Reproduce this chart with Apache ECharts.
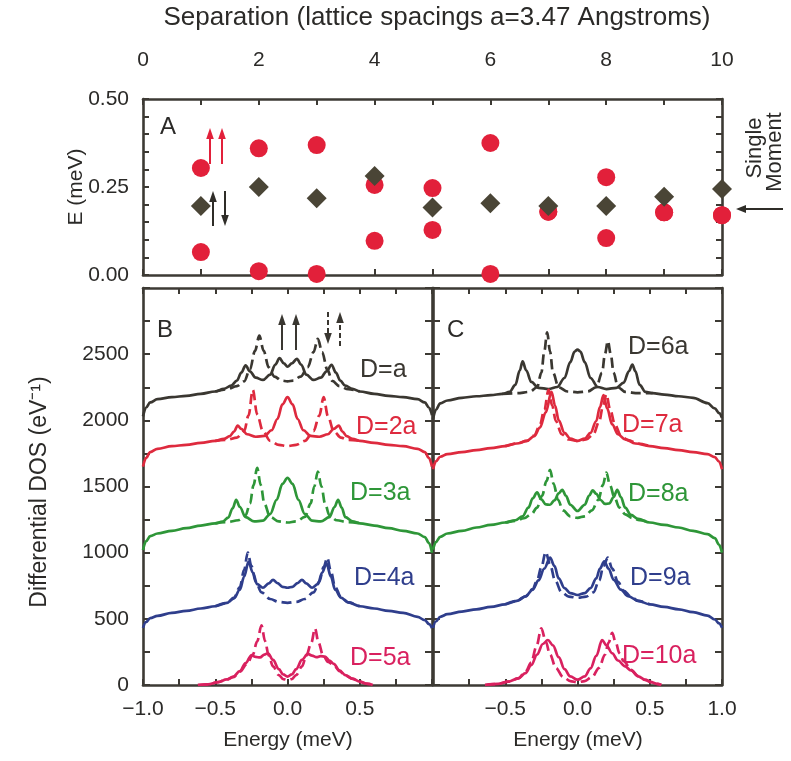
<!DOCTYPE html>
<html><head><meta charset="utf-8">
<script src="https://cdn.jsdelivr.net/npm/echarts/dist/echarts.min.js"></script>
<style>html,body{margin:0;padding:0;background:#fff}#c{width:791px;height:761px}</style>
</head><body><div id="c"></div>
<script>
// ---------- Panel A data ----------
const separations = [1,2,3,4,5,6,7,8,9,10];
const parallelUpper = [0.304,0.360,0.369,0.256,0.247,0.375,0.180,0.278,0.178,0.170];
const parallelLower = [0.065,0.011,0.003,0.097,0.128,0.003,0.180,0.105,0.178,0.170];
const antiparallel  = [0.196,0.250,0.218,0.281,0.192,0.204,0.196,0.196,0.222,0.244];

// ---------- Panel B data (energy meV, DOS eV^-1) ----------
const dosD1Solid = [[-1.00,2030],[-0.98,2095],[-0.95,2135],[-0.90,2160],[-0.80,2175],[-0.70,2185],[-0.60,2200],[-0.50,2218],[-0.44,2238],[-0.39,2262],[-0.35,2300],[-0.32,2360],[-0.29,2415],[-0.26,2370],[-0.22,2322],[-0.17,2305],[-0.12,2345],[-0.085,2420],[-0.055,2470],[-0.025,2430],[0.00,2405],[0.03,2430],[0.065,2465],[0.095,2420],[0.13,2345],[0.18,2305],[0.23,2322],[0.27,2370],[0.305,2420],[0.335,2360],[0.365,2300],[0.40,2262],[0.45,2238],[0.50,2218],[0.60,2200],[0.70,2185],[0.80,2175],[0.90,2160],[0.95,2135],[0.98,2095],[1.00,2040]];
const dosD1Dashed = [[-0.50,2218],[-0.42,2235],[-0.35,2258],[-0.30,2295],[-0.26,2385],[-0.225,2525],[-0.195,2640],[-0.165,2525],[-0.13,2400],[-0.09,2330],[-0.04,2300],[0.00,2295],[0.04,2300],[0.09,2330],[0.14,2400],[0.18,2515],[0.21,2615],[0.24,2515],[0.275,2385],[0.31,2298],[0.36,2258],[0.42,2235],[0.50,2218]];
const dosD2Solid = [[-1.00,1650],[-0.98,1715],[-0.95,1760],[-0.90,1785],[-0.80,1805],[-0.70,1815],[-0.60,1830],[-0.50,1845],[-0.44,1860],[-0.40,1880],[-0.37,1915],[-0.345,1960],[-0.32,1935],[-0.28,1895],[-0.22,1876],[-0.16,1882],[-0.11,1925],[-0.07,2010],[-0.035,2120],[0.00,2175],[0.035,2120],[0.07,2010],[0.11,1925],[0.16,1882],[0.22,1876],[0.28,1895],[0.32,1935],[0.355,1960],[0.38,1915],[0.41,1880],[0.45,1860],[0.50,1845],[0.60,1830],[0.70,1815],[0.80,1805],[0.90,1785],[0.95,1760],[0.98,1715],[1.00,1650]];
const dosD2Dashed = [[-0.50,1845],[-0.42,1852],[-0.35,1870],[-0.30,1918],[-0.27,2035],[-0.24,2230],[-0.21,2045],[-0.17,1918],[-0.12,1845],[-0.06,1815],[0.00,1805],[0.06,1815],[0.12,1845],[0.18,1918],[0.22,2035],[0.25,2175],[0.28,2030],[0.32,1918],[0.37,1870],[0.42,1852],[0.50,1845]];
const dosD3Solid = [[-1.00,1020],[-0.98,1085],[-0.95,1125],[-0.90,1145],[-0.80,1165],[-0.70,1185],[-0.60,1205],[-0.50,1222],[-0.45,1235],[-0.41,1265],[-0.38,1335],[-0.355,1400],[-0.33,1345],[-0.29,1268],[-0.23,1236],[-0.17,1242],[-0.12,1292],[-0.075,1400],[-0.035,1520],[0.00,1565],[0.035,1520],[0.075,1400],[0.12,1292],[0.17,1242],[0.23,1236],[0.29,1268],[0.325,1345],[0.35,1400],[0.375,1340],[0.40,1268],[0.45,1236],[0.50,1222],[0.60,1205],[0.70,1185],[0.80,1165],[0.90,1145],[0.95,1118],[0.98,1072],[1.00,1000]];
const dosD3Dashed = [[-0.50,1222],[-0.42,1230],[-0.34,1245],[-0.29,1282],[-0.26,1370],[-0.235,1510],[-0.21,1640],[-0.185,1510],[-0.16,1370],[-0.12,1270],[-0.06,1236],[0.00,1228],[0.06,1236],[0.12,1270],[0.16,1370],[0.185,1500],[0.21,1612],[0.235,1500],[0.26,1370],[0.29,1282],[0.34,1245],[0.42,1230],[0.50,1222]];
const dosD4Solid = [[-1.00,432],[-0.98,475],[-0.95,505],[-0.90,522],[-0.80,545],[-0.70,560],[-0.60,578],[-0.50,595],[-0.42,620],[-0.37,655],[-0.33,720],[-0.30,820],[-0.27,930],[-0.24,850],[-0.21,762],[-0.17,735],[-0.13,768],[-0.10,795],[-0.07,770],[-0.035,742],[0.00,735],[0.035,742],[0.07,770],[0.10,795],[0.13,768],[0.17,735],[0.21,762],[0.24,850],[0.27,920],[0.30,820],[0.33,720],[0.37,660],[0.42,625],[0.50,595],[0.60,578],[0.70,560],[0.80,545],[0.90,515],[0.95,490],[0.98,460],[1.00,430]];
const dosD4Dashed = [[-0.50,595],[-0.42,620],[-0.37,660],[-0.33,740],[-0.30,870],[-0.275,1000],[-0.25,900],[-0.22,780],[-0.18,700],[-0.12,650],[-0.06,628],[0.00,621],[0.06,628],[0.12,650],[0.18,700],[0.22,780],[0.25,890],[0.275,962],[0.30,860],[0.33,740],[0.37,665],[0.42,625],[0.50,595]];
const dosD5Solid = [[-0.62,0],[-0.55,5],[-0.48,22],[-0.42,42],[-0.375,63],[-0.33,105],[-0.29,165],[-0.25,225],[-0.22,212],[-0.19,208],[-0.16,230],[-0.135,240],[-0.10,190],[-0.06,120],[-0.03,80],[0.00,63],[0.03,80],[0.06,120],[0.10,190],[0.14,235],[0.17,222],[0.20,210],[0.23,218],[0.26,215],[0.29,185],[0.32,160],[0.36,110],[0.40,75],[0.45,48],[0.50,25],[0.55,10],[0.59,0]];
const dosD5Dashed = [[-0.62,0],[-0.55,5],[-0.48,22],[-0.42,42],[-0.375,60],[-0.33,100],[-0.28,160],[-0.24,230],[-0.21,330],[-0.18,450],[-0.155,330],[-0.13,222],[-0.10,140],[-0.06,75],[-0.03,45],[0.00,38],[0.03,45],[0.06,75],[0.10,140],[0.13,222],[0.165,320],[0.19,428],[0.215,320],[0.245,228],[0.28,175],[0.32,150],[0.36,105],[0.40,72],[0.45,46],[0.50,24],[0.55,9],[0.59,0]];

// ---------- Panel C data ----------
const dosD6Solid = [[-1.00,2010],[-0.98,2080],[-0.95,2128],[-0.90,2150],[-0.80,2170],[-0.70,2182],[-0.60,2190],[-0.52,2200],[-0.47,2215],[-0.43,2268],[-0.40,2375],[-0.38,2445],[-0.355,2378],[-0.32,2290],[-0.27,2246],[-0.20,2236],[-0.14,2252],[-0.09,2320],[-0.05,2440],[-0.02,2520],[0.00,2535],[0.02,2520],[0.05,2440],[0.09,2320],[0.14,2252],[0.20,2236],[0.27,2246],[0.32,2285],[0.355,2370],[0.38,2422],[0.40,2372],[0.43,2268],[0.47,2215],[0.52,2205],[0.60,2195],[0.70,2182],[0.80,2170],[0.90,2130],[0.95,2090],[0.98,2055],[1.00,2020]];
const dosD6Dashed = [[-0.52,2200],[-0.42,2205],[-0.33,2215],[-0.28,2250],[-0.25,2360],[-0.23,2520],[-0.21,2665],[-0.19,2520],[-0.17,2360],[-0.13,2250],[-0.07,2218],[0.00,2212],[0.07,2218],[0.13,2250],[0.17,2360],[0.19,2500],[0.21,2600],[0.23,2500],[0.25,2360],[0.28,2250],[0.33,2215],[0.42,2205],[0.52,2205]];
const dosD7Solid = [[-1.00,1630],[-0.98,1690],[-0.95,1725],[-0.90,1745],[-0.80,1760],[-0.70,1775],[-0.60,1790],[-0.50,1805],[-0.42,1825],[-0.35,1845],[-0.30,1880],[-0.26,1945],[-0.22,2060],[-0.18,2215],[-0.155,2110],[-0.13,2000],[-0.09,1905],[-0.05,1862],[0.00,1845],[0.05,1862],[0.09,1905],[0.13,1995],[0.155,2100],[0.18,2190],[0.205,2090],[0.24,1970],[0.28,1895],[0.33,1856],[0.40,1825],[0.50,1805],[0.60,1790],[0.70,1775],[0.80,1760],[0.90,1745],[0.95,1722],[0.98,1688],[1.00,1630]];
const dosD7Dashed = [[-0.50,1805],[-0.42,1825],[-0.35,1845],[-0.30,1885],[-0.26,1965],[-0.23,2080],[-0.20,2230],[-0.175,2110],[-0.15,1995],[-0.11,1895],[-0.06,1855],[0.00,1843],[0.06,1855],[0.11,1895],[0.15,1990],[0.175,2100],[0.20,2197],[0.225,2085],[0.26,1965],[0.30,1885],[0.35,1850],[0.42,1825],[0.50,1805]];
const dosD8Solid = [[-1.00,1023],[-0.98,1080],[-0.95,1120],[-0.90,1145],[-0.80,1165],[-0.70,1190],[-0.60,1210],[-0.50,1228],[-0.43,1245],[-0.38,1275],[-0.34,1340],[-0.31,1410],[-0.28,1455],[-0.25,1402],[-0.22,1365],[-0.19,1362],[-0.16,1395],[-0.13,1448],[-0.105,1475],[-0.08,1430],[-0.05,1362],[0.00,1315],[0.05,1362],[0.08,1430],[0.105,1470],[0.13,1445],[0.16,1398],[0.19,1368],[0.22,1372],[0.25,1420],[0.275,1475],[0.30,1420],[0.33,1340],[0.37,1285],[0.42,1255],[0.50,1228],[0.60,1210],[0.70,1190],[0.80,1165],[0.90,1140],[0.95,1110],[0.98,1060],[1.00,1000]];
const dosD8Dashed = [[-0.50,1228],[-0.43,1240],[-0.37,1260],[-0.32,1290],[-0.28,1340],[-0.245,1430],[-0.215,1540],[-0.19,1625],[-0.165,1520],[-0.135,1400],[-0.10,1320],[-0.05,1275],[0.00,1263],[0.05,1275],[0.10,1320],[0.145,1400],[0.175,1510],[0.20,1605],[0.225,1510],[0.255,1420],[0.29,1340],[0.33,1290],[0.38,1262],[0.43,1245],[0.50,1228]];
const dosD9Solid = [[-1.00,432],[-0.98,480],[-0.95,515],[-0.90,535],[-0.80,555],[-0.70,572],[-0.60,590],[-0.50,610],[-0.42,635],[-0.36,670],[-0.31,720],[-0.27,790],[-0.23,880],[-0.19,962],[-0.16,900],[-0.13,805],[-0.09,732],[-0.05,695],[0.00,680],[0.05,695],[0.09,732],[0.13,805],[0.155,880],[0.185,935],[0.215,880],[0.25,795],[0.30,720],[0.35,672],[0.42,635],[0.50,610],[0.60,590],[0.70,572],[0.80,550],[0.90,525],[0.95,495],[0.98,465],[1.00,432]];
const dosD9Dashed = [[-0.50,610],[-0.42,635],[-0.36,670],[-0.31,725],[-0.28,790],[-0.25,890],[-0.22,1005],[-0.19,910],[-0.155,790],[-0.11,700],[-0.06,668],[0.00,659],[0.06,668],[0.11,700],[0.15,790],[0.18,900],[0.21,962],[0.24,880],[0.28,780],[0.32,712],[0.37,668],[0.42,635],[0.50,610]];
const dosD10Solid = [[-0.64,0],[-0.55,8],[-0.48,25],[-0.41,50],[-0.36,90],[-0.32,150],[-0.28,230],[-0.24,310],[-0.205,340],[-0.17,300],[-0.13,210],[-0.09,120],[-0.05,65],[0.00,40],[0.05,65],[0.09,125],[0.13,220],[0.17,340],[0.20,300],[0.24,240],[0.28,185],[0.33,140],[0.37,110],[0.42,65],[0.47,38],[0.51,22],[0.55,8],[0.58,0]];
const dosD10Dashed = [[-0.64,0],[-0.55,8],[-0.48,25],[-0.41,50],[-0.36,100],[-0.32,170],[-0.285,290],[-0.25,428],[-0.22,330],[-0.19,230],[-0.15,130],[-0.10,60],[-0.05,30],[0.00,20],[0.05,30],[0.10,60],[0.15,130],[0.19,230],[0.215,320],[0.24,394],[0.265,320],[0.29,240],[0.32,180],[0.37,115],[0.42,68],[0.47,38],[0.51,22],[0.55,8],[0.58,0]];

// ---------- tick labels ----------
const sepTickLabels = [0,2,4,6,8,10];
const eTickLabels = [0, 0.25, 0.5];
const dosTickLabels = [0,500,1000,1500,2000,2500];
const energyLabelsB = [-1.0,-0.5,0.0,0.5];
const energyLabelsC = [-0.5,0.0,0.5,1.0];

// ---------- styling ----------
const FONT = 'Liberation Sans, Arial, Helvetica, sans-serif';
const FRAME = '#3d3a34';
const TXT = '#2b2a28';
const COL = {black:'#3a3731', red:'#de2a3e', green:'#2e9638', blue:'#2f3e8c', pink:'#d9215f'};

const chart = echarts.init(document.getElementById('c'), null, {renderer:'canvas'});

const near = (v, arr) => arr.some(a => Math.abs(a - v) < 1e-6);
const fmtMinus = s => s.replace('-', '\u2212');

function frameAxis(extra) {
  return Object.assign({
    type:'value', splitLine:{show:false},
    axisLine:{show:true, onZero:false, lineStyle:{color:FRAME, width:2.6}},
    axisTick:{show:true, inside:true, length:6, lineStyle:{color:FRAME, width:2}},
    axisLabel:{show:false}
  }, extra);
}

const xAxes = [
  frameAxis({gridIndex:0, min:0, max:10, interval:1, position:'top',
    axisLabel:{show:true, fontSize:21, fontFamily:FONT, color:TXT, margin:28,
      formatter: v => near(v, sepTickLabels) ? String(v) : ''}}),
  frameAxis({gridIndex:0, min:0, max:10, interval:1, position:'bottom'}),
  frameAxis({gridIndex:1, min:-1, max:1, interval:0.25, position:'bottom',
    axisLabel:{show:true, fontSize:21, fontFamily:FONT, color:TXT, margin:14,
      formatter: v => near(v, energyLabelsB) ? fmtMinus(v.toFixed(1)) : ''}}),
  frameAxis({gridIndex:1, min:-1, max:1, interval:0.25, position:'top'}),
  frameAxis({gridIndex:2, min:-1, max:1, interval:0.25, position:'bottom',
    axisLabel:{show:true, fontSize:21, fontFamily:FONT, color:TXT, margin:14,
      formatter: v => near(v, energyLabelsC) ? fmtMinus(v.toFixed(1)) : ''}}),
  frameAxis({gridIndex:2, min:-1, max:1, interval:0.25, position:'top'})
];
const yTick = {show:true, inside:true, length:7, lineStyle:{color:FRAME, width:2}};
const yAxes = [
  frameAxis({gridIndex:0, min:0, max:0.5, interval:0.05, position:'left',
    axisLabel:{show:true, fontSize:21, fontFamily:FONT, color:TXT, margin:14,
      formatter: v => near(v, eTickLabels) ? v.toFixed(2) : ''}}),
  frameAxis({gridIndex:0, min:0, max:0.5, interval:0.05, position:'right'}),
  frameAxis({gridIndex:1, min:0, max:3000, interval:250, position:'left', axisTick:yTick,
    axisLabel:{show:true, fontSize:21, fontFamily:FONT, color:TXT, margin:14,
      formatter: v => near(v, dosTickLabels) ? String(v) : ''}}),
  frameAxis({gridIndex:1, min:0, max:3000, interval:250, position:'right', axisTick:yTick}),
  frameAxis({gridIndex:2, min:0, max:3000, interval:250, position:'left', axisTick:yTick}),
  frameAxis({gridIndex:2, min:0, max:3000, interval:250, position:'right', axisTick:yTick})
];

function curve(data, color, dashed, panel) {
  const ax = panel === 'B' ? 2 : 4;
  return {type:'line', xAxisIndex:ax, yAxisIndex:ax, data:data, showSymbol:false, symbol:'none',
    smooth:0.35, smoothMonotone:'x', animation:false, z: dashed ? 3 : 2,
    lineStyle:{color:color, width:2.7, type: dashed ? [10,5] : 'solid', cap:'butt', join:'round'}};
}

const series = [
  {type:'scatter', xAxisIndex:0, yAxisIndex:0, clip:false, symbol:'circle', symbolSize:18,
   itemStyle:{color:'#e2203a', opacity:1}, z:3, animation:false,
   data: separations.map((s,i)=>[s, parallelUpper[i]])},
  {type:'scatter', xAxisIndex:0, yAxisIndex:0, clip:false, symbol:'circle', symbolSize:18,
   itemStyle:{color:'#e2203a', opacity:1}, z:3, animation:false,
   data: separations.map((s,i)=>[s, parallelLower[i]])},
  {type:'scatter', xAxisIndex:0, yAxisIndex:0, clip:false, symbol:'diamond', symbolSize:[20,20],
   itemStyle:{color:'#4a4536', opacity:1}, z:4, animation:false,
   data: separations.map((s,i)=>[s, antiparallel[i]])},
  curve(dosD1Solid, COL.black, false, 'B'), curve(dosD1Dashed, COL.black, true, 'B'),
  curve(dosD2Solid, COL.red, false, 'B'), curve(dosD2Dashed, COL.red, true, 'B'),
  curve(dosD3Solid, COL.green, false, 'B'), curve(dosD3Dashed, COL.green, true, 'B'),
  curve(dosD4Solid, COL.blue, false, 'B'), curve(dosD4Dashed, COL.blue, true, 'B'),
  curve(dosD5Solid, COL.pink, false, 'B'), curve(dosD5Dashed, COL.pink, true, 'B'),
  curve(dosD6Solid, COL.black, false, 'C'), curve(dosD6Dashed, COL.black, true, 'C'),
  curve(dosD7Solid, COL.red, false, 'C'), curve(dosD7Dashed, COL.red, true, 'C'),
  curve(dosD8Solid, COL.green, false, 'C'), curve(dosD8Dashed, COL.green, true, 'C'),
  curve(dosD9Solid, COL.blue, false, 'C'), curve(dosD9Dashed, COL.blue, true, 'C'),
  curve(dosD10Solid, COL.pink, false, 'C'), curve(dosD10Dashed, COL.pink, true, 'C')
];

// ---------- annotations ----------
function txt(text, x, y, size, color, opt) {
  return Object.assign({type:'text', x:x, y:y, z:20, silent:true,
    style:{text:text, fontSize:size, fontFamily:FONT, fill:color, align:'left', verticalAlign:'middle'}}, opt || {});
}
function ctxt(text, x, y, size, color, rot) {
  return {type:'text', x:x, y:y, rotation:rot||0, z:20, silent:true,
    style:{text:text, fontSize:size, fontFamily:FONT, fill:color, align:'center', verticalAlign:'middle'}};
}
function vArrow(x, yTail, yHead, color, dashed) {
  const dir = yHead < yTail ? 1 : -1; // 1 = pointing up
  const hb = yHead + dir*10;
  return [
    {type:'line', z:20, silent:true, shape:{x1:x, y1:yTail, x2:x, y2:hb},
     style:{stroke:color, lineWidth:2, lineDash: dashed ? [5,3] : null}},
    {type:'polygon', z:20, silent:true, shape:{points:[[x-3.8,hb+dir*1],[x+3.8,hb+dir*1],[x,yHead]]}, style:{fill:color}}
  ];
}
function hArrowLeft(xTail, xHead, y, color) {
  return [
    {type:'line', z:20, silent:true, shape:{x1:xTail, y1:y, x2:xHead+9, y2:y}, style:{stroke:color, lineWidth:2}},
    {type:'polygon', z:20, silent:true, shape:{points:[[xHead+10,y-4],[xHead+10,y+4],[xHead,y]]}, style:{fill:color}}
  ];
}

const graphics = [
  ctxt('Separation (lattice spacings a=3.47 Angstroms)', 437, 18, 26, TXT),
  ctxt('E (meV)', 76, 187, 21, TXT, Math.PI/2),
  ctxt('Differential DOS (eV\u207B\u00B9)', 40, 492, 23, TXT, Math.PI/2),
  ctxt('Energy (meV)', 288, 740, 21, TXT),
  ctxt('Energy (meV)', 578, 740, 21, TXT),
  ctxt('Single', 755, 148, 22, TXT, Math.PI/2),
  ctxt('Moment', 775, 152, 22, TXT, Math.PI/2),
  txt('A', 160, 127, 24, TXT),
  txt('B', 157, 330, 24, TXT),
  txt('C', 447, 330, 24, TXT),
  txt('D=a', 360, 370, 25, COL.black),
  txt('D=2a', 356, 427, 25, COL.red),
  txt('D=3a', 350, 493, 25, COL.green),
  txt('D=4a', 354, 578, 25, COL.blue),
  txt('D=5a', 350, 658, 25, COL.pink),
  txt('D=6a', 628, 347, 25, COL.black),
  txt('D=7a', 622, 425, 25, COL.red),
  txt('D=8a', 628, 494, 25, COL.green),
  txt('D=9a', 630, 578, 25, COL.blue),
  txt('D=10a', 622, 656, 25, COL.pink)
].concat(
  vArrow(210, 164, 128, '#e2203a', false),
  vArrow(222, 164, 128, '#e2203a', false),
  vArrow(213, 226, 191, '#2f2d28', false),
  vArrow(225, 191, 226, '#2f2d28', false),
  vArrow(282, 350, 314, '#3a3731', false),
  vArrow(296, 350, 314, '#3a3731', false),
  vArrow(328, 312, 344, '#3a3731', true),
  vArrow(340, 346, 312, '#3a3731', true),
  hArrowLeft(783, 736, 209, '#2f2d28')
);

chart.setOption({
  backgroundColor:'#ffffff',
  animation:false,
  grid:[
    {left:143, top:99, width:579, height:176},
    {left:143, top:288, width:289, height:397},
    {left:433, top:288, width:289, height:397}
  ],
  xAxis:xAxes,
  yAxis:yAxes,
  series:series,
  graphic:graphics
});
</script></body></html>
